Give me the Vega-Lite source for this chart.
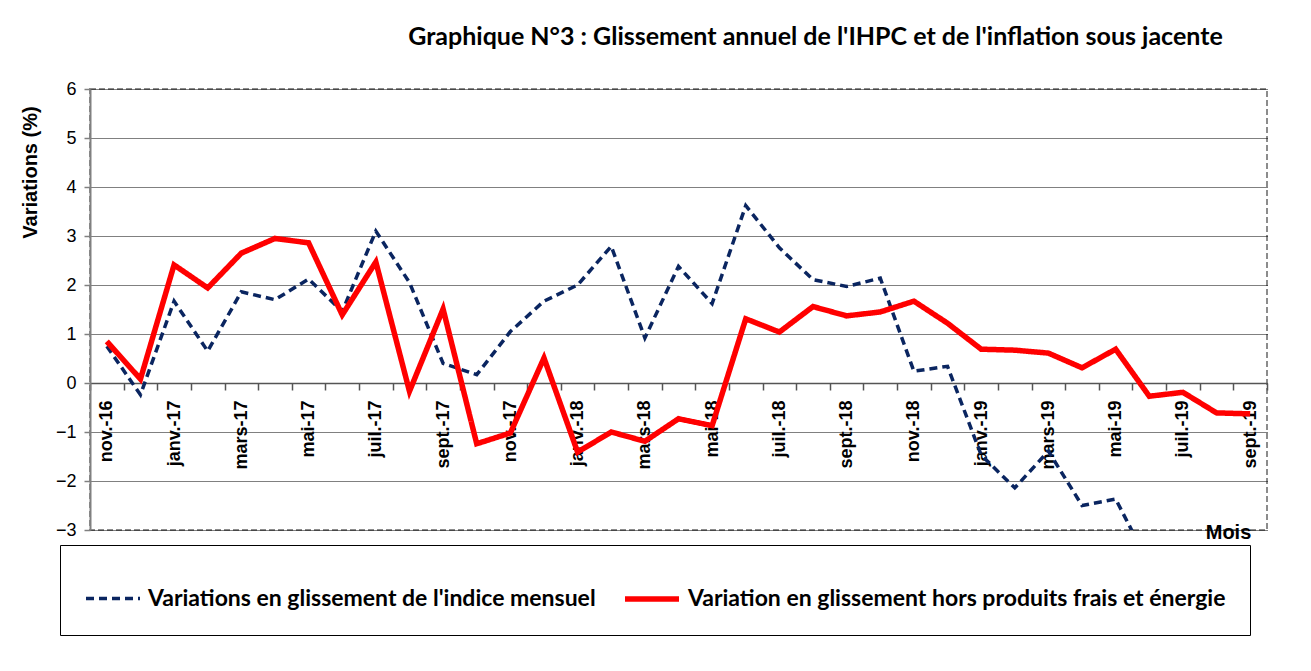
{
  "$schema": "https://vega.github.io/schema/vega-lite/v6.json",
  "width": 1177,
  "height": 441,
  "autosize": {"type": "none"},
  "padding": {"left": 90, "top": 89, "right": 44, "bottom": 141},
  "background": "white",
  "title": {
    "text": "Graphique N°3 : Glissement annuel de l'IHPC et de l'inflation sous jacente",
    "anchor": "end",
    "dx": -45,
    "offset": 30,
    "font": "Lato",
    "fontSize": 25,
    "fontWeight": "bold",
    "color": "#000000"
  },
  "config": {
    "view": {"stroke": "#8c8c8c", "strokeWidth": 2, "strokeDash": [6, 3]},
    "font": "Liberation Sans"
  },
  "data": {
    "values": [
      {"mois": "nov.-16", "serie": "Variations en glissement de l'indice mensuel", "valeur": 0.75},
      {"mois": "déc.-16", "serie": "Variations en glissement de l'indice mensuel", "valeur": -0.24},
      {"mois": "janv.-17", "serie": "Variations en glissement de l'indice mensuel", "valeur": 1.67},
      {"mois": "févr.-17", "serie": "Variations en glissement de l'indice mensuel", "valeur": 0.65},
      {"mois": "mars-17", "serie": "Variations en glissement de l'indice mensuel", "valeur": 1.86},
      {"mois": "avr.-17", "serie": "Variations en glissement de l'indice mensuel", "valeur": 1.70},
      {"mois": "mai-17", "serie": "Variations en glissement de l'indice mensuel", "valeur": 2.12},
      {"mois": "juin-17", "serie": "Variations en glissement de l'indice mensuel", "valeur": 1.46},
      {"mois": "juil.-17", "serie": "Variations en glissement de l'indice mensuel", "valeur": 3.10},
      {"mois": "août-17", "serie": "Variations en glissement de l'indice mensuel", "valeur": 2.05},
      {"mois": "sept.-17", "serie": "Variations en glissement de l'indice mensuel", "valeur": 0.40},
      {"mois": "oct.-17", "serie": "Variations en glissement de l'indice mensuel", "valeur": 0.17},
      {"mois": "nov.-17", "serie": "Variations en glissement de l'indice mensuel", "valeur": 1.05},
      {"mois": "déc.-17", "serie": "Variations en glissement de l'indice mensuel", "valeur": 1.67},
      {"mois": "janv.-18", "serie": "Variations en glissement de l'indice mensuel", "valeur": 2.00},
      {"mois": "févr.-18", "serie": "Variations en glissement de l'indice mensuel", "valeur": 2.79},
      {"mois": "mars-18", "serie": "Variations en glissement de l'indice mensuel", "valeur": 0.92},
      {"mois": "avr.-18", "serie": "Variations en glissement de l'indice mensuel", "valeur": 2.38},
      {"mois": "mai-18", "serie": "Variations en glissement de l'indice mensuel", "valeur": 1.62},
      {"mois": "juin-18", "serie": "Variations en glissement de l'indice mensuel", "valeur": 3.62},
      {"mois": "juil.-18", "serie": "Variations en glissement de l'indice mensuel", "valeur": 2.76},
      {"mois": "août-18", "serie": "Variations en glissement de l'indice mensuel", "valeur": 2.11},
      {"mois": "sept.-18", "serie": "Variations en glissement de l'indice mensuel", "valeur": 1.97},
      {"mois": "oct.-18", "serie": "Variations en glissement de l'indice mensuel", "valeur": 2.14},
      {"mois": "nov.-18", "serie": "Variations en glissement de l'indice mensuel", "valeur": 0.24},
      {"mois": "déc.-18", "serie": "Variations en glissement de l'indice mensuel", "valeur": 0.34},
      {"mois": "janv.-19", "serie": "Variations en glissement de l'indice mensuel", "valeur": -1.47},
      {"mois": "févr.-19", "serie": "Variations en glissement de l'indice mensuel", "valeur": -2.14},
      {"mois": "mars-19", "serie": "Variations en glissement de l'indice mensuel", "valeur": -1.39},
      {"mois": "avr.-19", "serie": "Variations en glissement de l'indice mensuel", "valeur": -2.50},
      {"mois": "mai-19", "serie": "Variations en glissement de l'indice mensuel", "valeur": -2.37},
      {"mois": "juin-19", "serie": "Variations en glissement de l'indice mensuel", "valeur": -3.70},
      {"mois": "nov.-16", "serie": "Variation en glissement hors produits frais et énergie", "valeur": 0.85},
      {"mois": "déc.-16", "serie": "Variation en glissement hors produits frais et énergie", "valeur": 0.08},
      {"mois": "janv.-17", "serie": "Variation en glissement hors produits frais et énergie", "valeur": 2.41},
      {"mois": "févr.-17", "serie": "Variation en glissement hors produits frais et énergie", "valeur": 1.94},
      {"mois": "mars-17", "serie": "Variation en glissement hors produits frais et énergie", "valeur": 2.65},
      {"mois": "avr.-17", "serie": "Variation en glissement hors produits frais et énergie", "valeur": 2.95},
      {"mois": "mai-17", "serie": "Variation en glissement hors produits frais et énergie", "valeur": 2.86},
      {"mois": "juin-17", "serie": "Variation en glissement hors produits frais et énergie", "valeur": 1.39},
      {"mois": "juil.-17", "serie": "Variation en glissement hors produits frais et énergie", "valeur": 2.47},
      {"mois": "août-17", "serie": "Variation en glissement hors produits frais et énergie", "valeur": -0.17},
      {"mois": "sept.-17", "serie": "Variation en glissement hors produits frais et énergie", "valeur": 1.51},
      {"mois": "oct.-17", "serie": "Variation en glissement hors produits frais et énergie", "valeur": -1.24},
      {"mois": "nov.-17", "serie": "Variation en glissement hors produits frais et énergie", "valeur": -1.02},
      {"mois": "déc.-17", "serie": "Variation en glissement hors produits frais et énergie", "valeur": 0.51},
      {"mois": "janv.-18", "serie": "Variation en glissement hors produits frais et énergie", "valeur": -1.41},
      {"mois": "févr.-18", "serie": "Variation en glissement hors produits frais et énergie", "valeur": -1.00},
      {"mois": "mars-18", "serie": "Variation en glissement hors produits frais et énergie", "valeur": -1.19},
      {"mois": "avr.-18", "serie": "Variation en glissement hors produits frais et énergie", "valeur": -0.73},
      {"mois": "mai-18", "serie": "Variation en glissement hors produits frais et énergie", "valeur": -0.87},
      {"mois": "juin-18", "serie": "Variation en glissement hors produits frais et énergie", "valeur": 1.31},
      {"mois": "juil.-18", "serie": "Variation en glissement hors produits frais et énergie", "valeur": 1.04},
      {"mois": "août-18", "serie": "Variation en glissement hors produits frais et énergie", "valeur": 1.56},
      {"mois": "sept.-18", "serie": "Variation en glissement hors produits frais et énergie", "valeur": 1.37},
      {"mois": "oct.-18", "serie": "Variation en glissement hors produits frais et énergie", "valeur": 1.45},
      {"mois": "nov.-18", "serie": "Variation en glissement hors produits frais et énergie", "valeur": 1.67},
      {"mois": "déc.-18", "serie": "Variation en glissement hors produits frais et énergie", "valeur": 1.22},
      {"mois": "janv.-19", "serie": "Variation en glissement hors produits frais et énergie", "valeur": 0.69},
      {"mois": "févr.-19", "serie": "Variation en glissement hors produits frais et énergie", "valeur": 0.67},
      {"mois": "mars-19", "serie": "Variation en glissement hors produits frais et énergie", "valeur": 0.61},
      {"mois": "avr.-19", "serie": "Variation en glissement hors produits frais et énergie", "valeur": 0.31},
      {"mois": "mai-19", "serie": "Variation en glissement hors produits frais et énergie", "valeur": 0.69},
      {"mois": "juin-19", "serie": "Variation en glissement hors produits frais et énergie", "valeur": -0.27},
      {"mois": "juil.-19", "serie": "Variation en glissement hors produits frais et énergie", "valeur": -0.19},
      {"mois": "août-19", "serie": "Variation en glissement hors produits frais et énergie", "valeur": -0.61},
      {"mois": "sept.-19", "serie": "Variation en glissement hors produits frais et énergie", "valeur": -0.63}
    ]
  },
  "mark": {"type": "line", "clip": true, "strokeJoin": "miter", "strokeCap": "butt"},
  "encoding": {
    "x": {
      "field": "mois",
      "type": "ordinal",
      "sort": ["nov.-16","déc.-16","janv.-17","févr.-17","mars-17","avr.-17","mai-17","juin-17","juil.-17","août-17","sept.-17","oct.-17","nov.-17","déc.-17","janv.-18","févr.-18","mars-18","avr.-18","mai-18","juin-18","juil.-18","août-18","sept.-18","oct.-18","nov.-18","déc.-18","janv.-19","févr.-19","mars-19","avr.-19","mai-19","juin-19","juil.-19","août-19","sept.-19"],
      "scale": {"type": "band", "paddingInner": 0, "paddingOuter": 0},
      "axis": {
        "offset": -147,
        "title": "Mois",
        "titleFont": "Liberation Sans",
        "titleFontSize": 20,
        "titleFontWeight": "bold",
        "titleColor": "#000000",
        "titleX": 1138,
        "titleY": 149,
        "titleAlign": "center",
        "titleBaseline": "middle",
        "labelAngle": -90,
        "labelAlign": "right",
        "labelBaseline": "middle",
        "labelPadding": 10,
        "labelOverlap": false,
        "labelFont": "Liberation Sans",
        "labelFontSize": 18,
        "labelFontWeight": "bold",
        "labelColor": "#000000",
        "labelExpr": "test(/^(nov|janv|mars|mai|juil|sept)/, datum.value) ? datum.value : ''",
        "tickBand": "extent",
        "tickSize": 7,
        "tickColor": "#555555",
        "tickWidth": 1.5,
        "domainColor": "#555555",
        "domainWidth": 1.5,
        "grid": false
      }
    },
    "y": {
      "field": "valeur",
      "type": "quantitative",
      "scale": {"domain": [-3, 6], "nice": false},
      "axis": {
        "values": [-3, -2, -1, 0, 1, 2, 3, 4, 5, 6],
        "title": "Variations (%)",
        "titleFont": "Liberation Sans",
        "titleFontSize": 20,
        "titleFontWeight": "bold",
        "titleColor": "#000000",
        "titleAngle": -90,
        "titleX": -60,
        "titleY": 83,
        "titleAlign": "center",
        "titleBaseline": "middle",
        "labelFont": "Liberation Sans",
        "labelFontSize": 18,
        "labelColor": "#000000",
        "labelPadding": 8,
        "tickSize": 6,
        "tickColor": "#808080",
        "tickWidth": 1.5,
        "domainColor": "#808080",
        "domainWidth": 2,
        "grid": true,
        "gridColor": "#000000",
        "gridDash": [1, 1],
        "gridWidth": 1,
        "gridOpacity": 1
      }
    },
    "color": {
      "field": "serie",
      "type": "nominal",
      "scale": {
        "domain": ["Variations en glissement de l'indice mensuel", "Variation en glissement hors produits frais et énergie"],
        "range": ["#0a2560", "#ff0000"]
      },
      "legend": {
        "title": null,
        "orient": "none",
        "legendX": -30,
        "legendY": 456,
        "direction": "horizontal",
        "strokeColor": "#000000",
        "padding": 24,
        "symbolType": "stroke",
        "symbolSize": 2916,
        "labelFont": "Lato",
        "labelFontSize": 23,
        "labelFontWeight": "bold",
        "labelColor": "#000000",
        "labelLimit": 700,
        "labelOffset": 6,
        "columnPadding": 18
      }
    },
    "strokeDash": {
      "field": "serie",
      "type": "nominal",
      "scale": {
        "domain": ["Variations en glissement de l'indice mensuel", "Variation en glissement hors produits frais et énergie"],
        "range": [[8, 5], [1, 0]]
      },
      "legend": null
    },
    "strokeWidth": {
      "field": "serie",
      "type": "nominal",
      "scale": {
        "domain": ["Variations en glissement de l'indice mensuel", "Variation en glissement hors produits frais et énergie"],
        "range": [3.5, 5.5]
      },
      "legend": null
    }
  }
}
